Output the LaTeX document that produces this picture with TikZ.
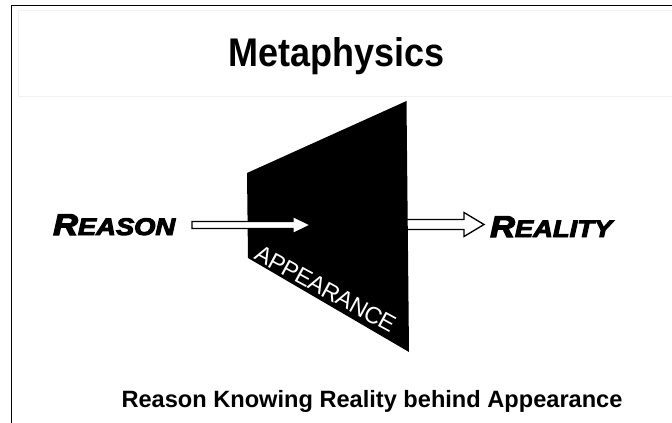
\documentclass[tikz,border=0pt]{standalone}
\usepackage{fontspec}
\setmainfont{Liberation Sans}
\newfontfamily\heavy{Liberation Sans Bold Italic}[FakeBold=4]
\begin{document}
\begin{tikzpicture}[x=1pt,y=-1pt,
  blockarrow/.style={fill=white,draw=black,line width=1.3pt,line join=miter},
  bigword/.style={anchor=base west,inner sep=0pt,font=\heavy},
  plain/.style={inner sep=0pt}]
\useasboundingbox (0,0) rectangle (672,423);
% frame lines
\draw[line width=1.6pt] (11.5,423) -- (11.5,5.5) -- (672,5.5);
% faint title box
\draw[draw=black!5,line width=0.8pt] (18,10) rectangle (690,96);
\node[plain,anchor=base] (title) at (336.5,66.5) {\scalebox{0.9}[1]{\fontsize{40}{44}\selectfont\bfseries Metaphysics}};
% right arrow (behind the panel)
\draw[blockarrow] (395,219.5) -- (464,219.5) -- (464,212.5) -- (484,224.5) -- (464,236.5) -- (464,229.5) -- (395,229.5) -- cycle;
% panel
\fill[black] (247,173) -- (406.5,101) -- (409,352) -- (248,258) -- cycle;
\node[plain,text=white,rotate=-28.5] (appearance) at (325.5,289) {\fontsize{23.5}{26}\selectfont A\kern-0.5pt P\kern-0.5pt P\kern-0.5pt E\kern-0.5pt A\kern-0.5pt R\kern-0.5pt A\kern-0.5pt N\kern-0.5pt C\kern-0.5pt E};
% left arrow
\draw[blockarrow] (192,221.5) -- (293,221.5) -- (293,216.5) -- (310.5,225) -- (293,233.5) -- (293,228.5) -- (192,228.5) -- cycle;
% words
\node[bigword] (reason) at (53,235) {\scalebox{1.14}[1]{\fontsize{30}{32}\selectfont R\fontsize{24}{26}\selectfont EASON}};
\node[bigword] (reality) at (490,237) {\scalebox{1.14}[1]{\fontsize{30}{32}\selectfont R\fontsize{24}{26}\selectfont EALITY}};
% caption
\node[plain,anchor=base] (caption) at (372,407) {\fontsize{23.6}{26}\selectfont\bfseries Reason Knowing Reality behind Appearance};
\end{tikzpicture}
\end{document}
